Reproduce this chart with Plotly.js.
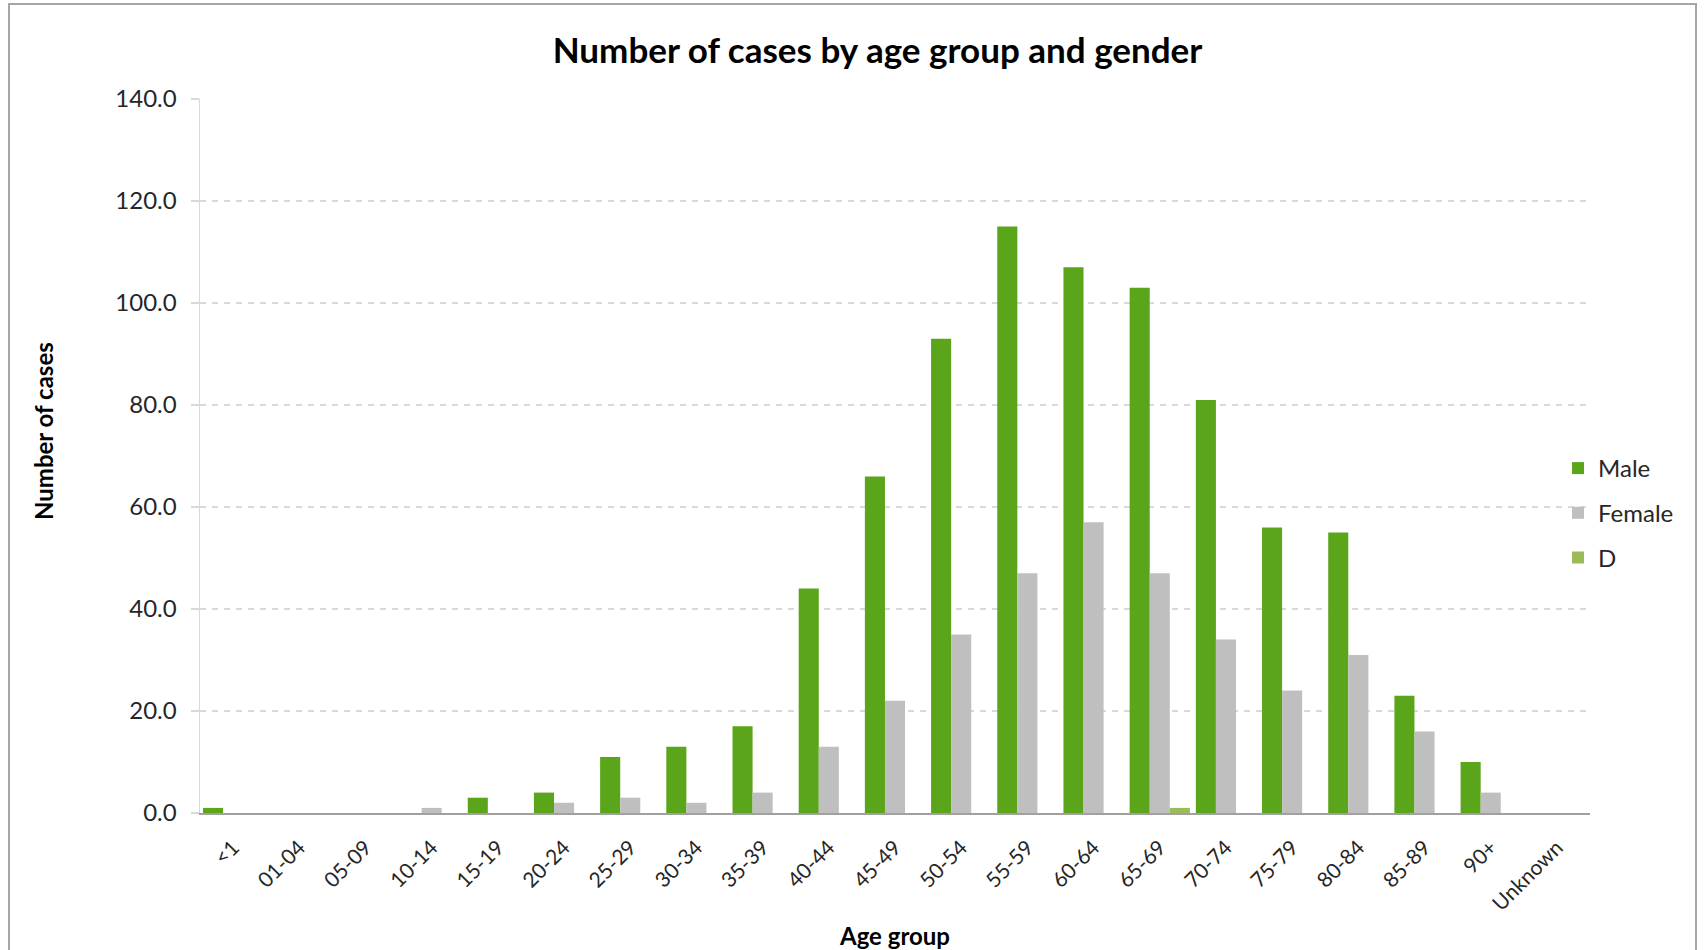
<!DOCTYPE html>
<html>
<head>
<meta charset="utf-8">
<script src="https://cdn.plot.ly/plotly-3.0.1.min.js"></script>
<style>
  html, body { margin: 0; padding: 0; background: #ffffff; overflow: hidden; }
  #chart { position: absolute; left: 0; top: 0; width: 1704px; height: 950px; }
  #frame { position: absolute; left: 8px; top: 3px; width: 1689px; height: 980px;
           border: 2px solid #a6a6a6; pointer-events: none; box-sizing: border-box; }
</style>
</head>
<body>
<div id="chart"></div>
<div id="frame"></div>
<script>
const ageGroups = ["<1", "01-04", "05-09", "10-14", "15-19", "20-24", "25-29", "30-34", "35-39",
  "40-44", "45-49", "50-54", "55-59", "60-64", "65-69", "70-74", "75-79", "80-84", "85-89", "90+", "Unknown"];
const maleCases   = [1, 0, 0, 0, 3, 4, 11, 13, 17, 44, 66, 93, 115, 107, 103, 81, 56, 55, 23, 10, 0];
const femaleCases = [0, 0, 0, 1, 0, 2, 3, 2, 4, 13, 22, 35, 47, 57, 47, 34, 24, 31, 16, 4, 0];
const dCases      = [0, 0, 0, 0, 0, 0, 0, 0, 0, 0, 0, 0, 0, 0, 1, 0, 0, 0, 0, 0, 0];
const yTickVals   = [0, 20, 40, 60, 80, 100, 120, 140];

const FONT = "Lato, 'Open Sans', 'DejaVu Sans', sans-serif";

const traces = [
  { type: "bar", name: "Male", x: ageGroups, y: maleCases, legendgroup: "m",
    marker: { color: "#5aa51a" } },
  { type: "bar", name: "Female", x: ageGroups, y: femaleCases, legendgroup: "f",
    marker: { color: "#bfbfbf" } },
  { type: "bar", name: "D", x: ageGroups, y: dCases, legendgroup: "d",
    marker: { color: "#9bbb59" } }
];

const layout = {
  width: 1704, height: 950,
  margin: { l: 200, r: 114, t: 99, b: 137 },
  paper_bgcolor: "#ffffff", plot_bgcolor: "#ffffff",
  font: { family: FONT, color: "#262626", size: 22 },
  title: { text: "Number of cases by age group and gender",
           font: { family: FONT, size: 35, color: "#000000", weight: "bold" },
           x: 0.515, xref: "container", xanchor: "center",
           y: 1 - 51 / 950, yref: "container", yanchor: "middle" },
  barmode: "group", bargap: 0.09, bargroupgap: 0,
  showlegend: true,
  legend: { x: 0.977, xanchor: "left", y: 0.514, yanchor: "top",
            traceorder: "grouped", tracegroupgap: 10.5,
            font: { family: FONT, size: 24, color: "#262626" },
            bgcolor: "rgba(0,0,0,0)", borderwidth: 0 },
  xaxis: {
    type: "category", categoryorder: "array", categoryarray: ageGroups,
    tickangle: -45, ticks: "", ticklabelstandoff: 12,
    tickfont: { family: FONT, size: 21, color: "#262626" },
    showline: true, linecolor: "#a0a0a0", linewidth: 2,
    showgrid: false, zeroline: false,
    title: { text: "Age group", standoff: 14, font: { family: FONT, size: 24, color: "#000000", weight: "bold" } }
  },
  yaxis: {
    range: [0, 140], tickvals: yTickVals, tickformat: ".1f",
    ticks: "outside", ticklen: 8, tickcolor: "#d9d9d9", tickwidth: 1.5,
    ticklabelstandoff: 9,
    tickfont: { family: FONT, size: 24, color: "#262626" },
    showline: true, linecolor: "#d9d9d9", linewidth: 1.5,
    showgrid: true, gridcolor: "#d9d9d9", gridwidth: 1.5, griddash: "6px,6px",
    zeroline: false
  },
  annotations: [
    { text: "Number of cases", textangle: -90, showarrow: false,
      xref: "paper", x: (43 - 200) / 1390, xanchor: "center",
      yref: "paper", y: (813 - 431) / 714, yanchor: "middle",
      font: { family: FONT, size: 24, color: "#000000", weight: "bold" } }
  ]
};

Plotly.newPlot("chart", traces, layout, { displayModeBar: false, staticPlot: true });
</script>
</body>
</html>
